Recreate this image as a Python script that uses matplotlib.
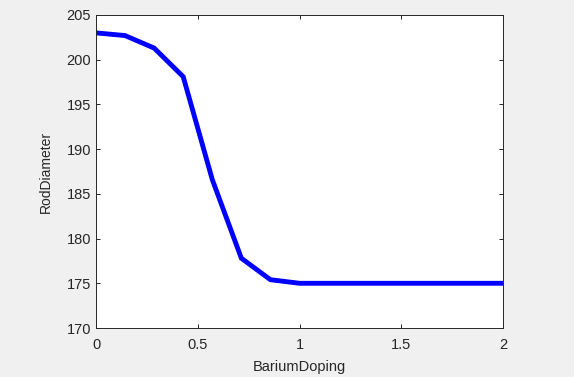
import numpy as np
import matplotlib.pyplot as plt

plt.rcParams['font.family'] = ['Liberation Sans', 'DejaVu Sans']

# data
barium_doping = [0, 1/7, 2/7, 3/7, 4/7, 5/7, 6/7, 1.0, 8/7, 9/7, 10/7, 11/7, 12/7, 13/7, 2.0]
rod_diameter = [203.0, 202.7, 201.3, 198.1, 186.6, 177.8, 175.4, 175.0, 175.0, 175.0, 175.0, 175.0, 175.0, 175.0, 175.0]

x_ticks = [0, 0.5, 1, 1.5, 2]
x_tick_labels = ['0', '0.5', '1', '1.5', '2']
y_ticks = [170, 175, 180, 185, 190, 195, 200, 205]

fig = plt.figure(figsize=(5.74, 3.77), dpi=100, facecolor='#f0f0f0')
ax = fig.add_axes([96/574, 1 - 328/377, (503-96)/574, (328-15)/377])
ax.plot(barium_doping, rod_diameter, color='#0000ff', linewidth=3.5, solid_joinstyle='miter')

ax.set_xlim(0, 2)
ax.set_ylim(170, 205)
ax.set_xticks(x_ticks)
ax.set_xticklabels(x_tick_labels)
ax.set_yticks(y_ticks)
ax.tick_params(direction='in', top=True, right=True, length=3, colors='#262626',
               labelsize=10.5, width=0.7)
ax.tick_params(axis='x', pad=7)
for s in ax.spines.values():
    s.set_color('#262626')
    s.set_linewidth(0.7)
ax.set_xlabel('BariumDoping', fontsize=10.5, color='#262626', labelpad=6)
ax.set_ylabel('RodDiameter', fontsize=10, color='#262626', labelpad=10)

plt.savefig('out.png', dpi=100, facecolor=fig.get_facecolor())
